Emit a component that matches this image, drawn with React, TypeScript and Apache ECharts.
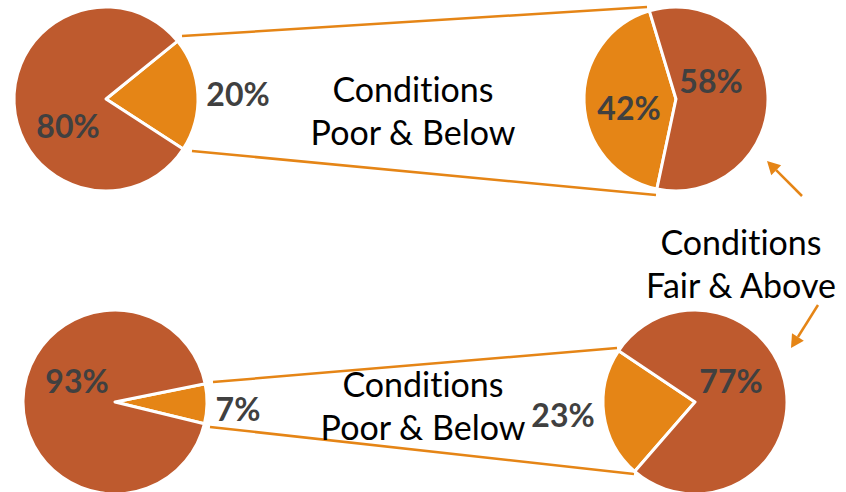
import React, { useEffect, useRef } from "react";
import * as echarts from "echarts";

// Data (percent shares). First entry = orange slice ("Poor & Below"-linked), second = dark slice.
const sliceNames = ["Poor & Below", "Fair & Above"];
const topLeftValues = [20, 80];
const topRightValues = [42, 58];
const bottomLeftValues = [7, 93];
const bottomRightValues = [23, 77];
const captionPoor = ["Conditions", "Poor & Below"];
const captionFair = ["Conditions", "Fair & Above"];

const ORANGE = "#E58516";
const DARK = "#BE5A2E";
const LABEL = "#404040";

type PieCfg = {
  values: number[];
  center: [number, number];
  startAngle: number;
  labelPos: [number, number][];
};

const pies: PieCfg[] = [
  { values: topLeftValues, center: [106, 99], startAngle: 39, labelPos: [[238, 93], [68, 125]] },
  { values: topRightValues, center: [676, 99], startAngle: 258, labelPos: [[629, 107], [711, 80]] },
  { values: bottomLeftValues, center: [115, 402], startAngle: 11.5, labelPos: [[238, 408], [77, 380]] },
  { values: bottomRightValues, center: [695, 402], startAngle: 229, labelPos: [[563, 414], [731, 380]] },
];

function arrow(from: [number, number], tip: [number, number]) {
  const dx = tip[0] - from[0];
  const dy = tip[1] - from[1];
  const len = Math.hypot(dx, dy);
  const ux = dx / len;
  const uy = dy / len;
  const hl = 13;
  const hw = 7;
  const bx = tip[0] - ux * hl;
  const by = tip[1] - uy * hl;
  const px = -uy * hw;
  const py = ux * hw;
  return [
    {
      type: "line",
      z: 10,
      shape: { x1: from[0], y1: from[1], x2: bx, y2: by },
      style: { stroke: ORANGE, lineWidth: 2.5 },
    },
    {
      type: "polygon",
      z: 10,
      shape: { points: [tip, [bx + px, by + py], [bx - px, by - py]] },
      style: { fill: ORANGE },
    },
  ];
}

function connector(x1: number, y1: number, x2: number, y2: number) {
  return {
    type: "line",
    z: 1,
    shape: { x1, y1, x2, y2 },
    style: { stroke: ORANGE, lineWidth: 2.5 },
  };
}

function caption(lines: string[], x: number, y: number) {
  return {
    type: "text",
    z: 20,
    x,
    y,
    style: {
      text: lines.join("\n"),
      fontFamily: "Lato",
      fontSize: 34,
      lineHeight: 43,
      fill: "#000000",
      align: "center",
      verticalAlign: "middle",
    },
  };
}

export default function App() {
  const ref = useRef<HTMLDivElement>(null);

  useEffect(() => {
    document.body.style.margin = "0";
    const styleEl = document.createElement("style");
    styleEl.textContent =
      "svg text { font-variant-ligatures: none; font-feature-settings: 'liga' 0, 'clig' 0; }";
    document.head.appendChild(styleEl);
    if (!ref.current) return;
    const chart = echarts.init(ref.current, null, { renderer: "svg" });

    const series = pies.map((p) => ({
      type: "pie",
      center: p.center,
      radius: 92,
      startAngle: p.startAngle,
      clockwise: true,
      avoidLabelOverlap: false,
      silent: true,
      itemStyle: { borderColor: "#ffffff", borderWidth: 3 },
      label: {
        show: true,
        position: "inside",
        formatter: (params: any) => `${params.value}%`,
        fontFamily: "Lato",
        fontWeight: "bold",
        fontSize: 32,
        color: LABEL,
      },
      labelLine: { show: false },
      labelLayout: (params: any) => ({
        x: p.labelPos[params.dataIndex][0],
        y: p.labelPos[params.dataIndex][1],
        align: "center",
        verticalAlign: "middle",
      }),
      data: p.values.map((v, i) => ({
        name: sliceNames[i],
        value: v,
        itemStyle: { color: i === 0 ? ORANGE : DARK },
      })),
      z: 5,
    }));

    chart.setOption({
      animation: false,
      backgroundColor: "#ffffff",
      series,
      graphic: [
        connector(182, 36, 647, 7),
        connector(192, 151, 656, 195),
        connector(213, 382, 617, 348),
        connector(210, 427, 634, 474),
        ...arrow([802, 196], [767, 161]),
        ...arrow([818, 305], [791, 348]),
        caption(captionPoor, 413, 110),
        caption(captionPoor, 423, 405),
        caption(captionFair, 741, 263),
      ],
    });

    return () => {
      chart.dispose();
      styleEl.remove();
    };
  }, []);

  return <div ref={ref} style={{ width: 846, height: 492 }} />;
}
